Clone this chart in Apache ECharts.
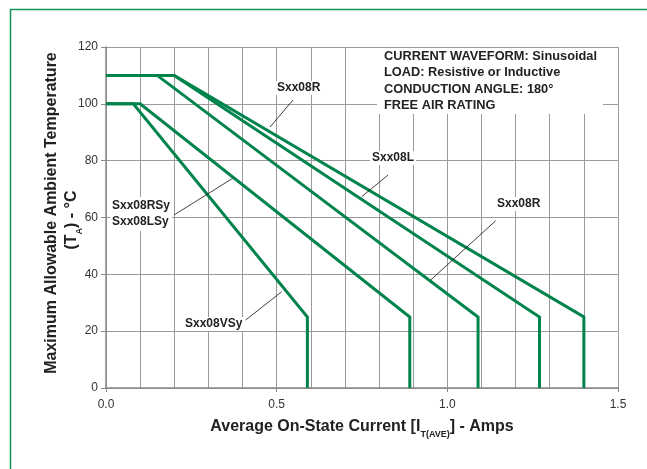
<!DOCTYPE html>
<html><head><meta charset="utf-8">
<script src="https://cdn.jsdelivr.net/npm/echarts@6.0.0/dist/echarts.min.js"></script>
<style>html,body{margin:0;padding:0;background:#fff}#c{width:647px;height:469px}</style>
</head><body><div id="c"></div>
<script>
// Derating curves: [current (A), temperature (°C)]
const curveVSy   = [[0,100],[0.08,100],[0.59,25],[0.59,0]];
const curveRSyLSy = [[0,100],[0.10,100],[0.89,25],[0.89,0]];
const curveRlow  = [[0,110],[0.15,110],[1.09,25],[1.09,0]];
const curveL     = [[0,110],[0.20,110],[1.27,25],[1.27,0]];
const curveRtop  = [[0,110],[0.20,110],[1.40,25],[1.40,0]];
const xTickLabels = ['0.0','0.5','1.0','1.5'];
const yTickLabels = ['0','20','40','60','80','100','120'];
const infoLines = ['CURRENT WAVEFORM: Sinusoidal','LOAD: Resistive or Inductive','CONDUCTION ANGLE: 180°','FREE AIR RATING'];

const GREEN = '#00844b';
const FONT = '"Liberation Sans", Arial, sans-serif';
const chart = echarts.init(document.getElementById('c'), null, {renderer:'canvas'});

function curve(name, data){
  return {name, type:'line', data, symbol:'none', silent:true, clip:false,
    lineStyle:{color:GREEN, width:3, join:'miter'}, z:3};
}
const lbl = (text, x, y, extra) => Object.assign({type:'text', x, y, z:100,
  style:Object.assign({text, font:'bold 12px '+FONT, fill:'#222', backgroundColor:'#fff', padding:[1,2], align:'left', verticalAlign:'middle'}, extra||{})});
const ptr = (x1,y1,x2,y2) => ({type:'line', z:99, shape:{x1,y1,x2,y2}, style:{stroke:'#111', lineWidth:0.8}});

chart.setOption({
  animation:false,
  backgroundColor:'#fff',
  grid:{left:106, right:29, top:47, bottom:81},
  xAxis:{type:'value', min:0, max:1.5, interval:0.5,
    axisLine:{show:true, onZero:false, lineStyle:{color:'#888', width:1.5}},
    axisTick:{show:true, length:4, lineStyle:{color:'#888'}},
    axisLabel:{margin:11, color:'#333', fontSize:12, fontFamily:FONT,
      formatter:v=>xTickLabels[Math.round(v/0.5)]},
    splitLine:{show:true, lineStyle:{color:'#9a9a9a', width:1}},
    minorTick:{show:false, splitNumber:5},
    minorSplitLine:{show:true, lineStyle:{color:'#9a9a9a', width:1}}
  },
  yAxis:{type:'value', min:0, max:120, interval:20,
    axisLine:{show:true, onZero:false, lineStyle:{color:'#888', width:1.5}},
    axisTick:{show:true, length:5, lineStyle:{color:'#888'}},
    axisLabel:{margin:8, color:'#333', fontSize:12, fontFamily:FONT,
      formatter:v=>yTickLabels[Math.round(v/20)]},
    splitLine:{show:true, lineStyle:{color:'#9a9a9a', width:1}}
  },
  series:[curve('Sxx08VSy',curveVSy), curve('Sxx08RSy/LSy',curveRSyLSy), curve('Sxx08R (lower)',curveRlow), curve('Sxx08L',curveL), curve('Sxx08R',curveRtop)],
  graphic:[
    {type:'polyline', z:100, shape:{points:[[10.5,470],[10.5,9.5],[648,9.5]]}, style:{stroke:'#179457', lineWidth:1.5, fill:null}},
    {type:'rect', z:98, shape:{x:377, y:48, width:226, height:66}, style:{fill:'#fff'}},
    {type:'text', z:100, x:384, y:48, style:{text:infoLines.join('\n'), font:'bold 12.8px '+FONT, fill:'#222', lineHeight:16.5, align:'left', verticalAlign:'top'}},
    lbl('Sxx08R', 275, 88),
    ptr(293,100,270,127),
    lbl('Sxx08L', 370, 158),
    ptr(388,175,361.7,196.7),
    lbl('Sxx08R', 495, 204),
    ptr(495.7,220.7,430.7,280),
    lbl('Sxx08RSy\nSxx08LSy', 110, 214, {lineHeight:16}),
    ptr(174,215,232.7,178.3),
    lbl('Sxx08VSy', 183, 324),
    ptr(245.7,320,281.7,291.7),
    {type:'text', z:100, x:52, y:213, rotation:Math.PI/2, style:{text:'Maximum Allowable Ambient Temperature', font:'bold 16px '+FONT, fill:'#222', align:'center', verticalAlign:'middle'}},
    {type:'text', z:100, x:73, y:220, rotation:Math.PI/2, style:{text:'{a|(T}{s|A}{a|) - °C}', align:'center', verticalAlign:'middle',
      rich:{a:{font:'bold 16px '+FONT, fill:'#222', lineHeight:18, verticalAlign:'top'}, s:{font:'bold 9px '+FONT, fill:'#222', lineHeight:9, padding:[11,0,0,0], verticalAlign:'top'}}}},
    {type:'text', z:100, x:362, y:428, style:{text:'{a|Average On-State Current [I}{s|T(AVE)}{a|] - Amps}', align:'center', verticalAlign:'middle',
      rich:{a:{font:'bold 16px '+FONT, fill:'#222', lineHeight:18, verticalAlign:'top'}, s:{font:'bold 9px '+FONT, fill:'#222', lineHeight:9, padding:[11,0,0,0], verticalAlign:'top'}}}}
  ]
});
</script></body></html>
